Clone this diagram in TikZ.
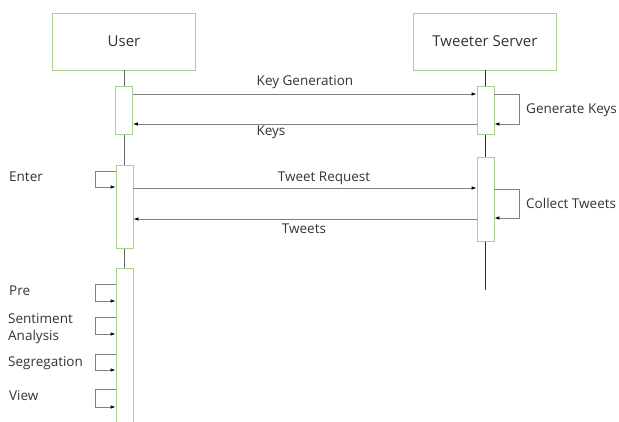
\documentclass[tikz,border=0pt]{standalone}
\usepackage{fontspec}
\setmainfont{Open Sans}
\usetikzlibrary{arrows.meta}
\definecolor{boxgreen}{RGB}{169,209,142}
\definecolor{linegray}{RGB}{128,128,128}
\tikzset{
  actor/.style={draw=boxgreen,line width=0.8pt,fill=white,minimum width=143pt,minimum height=57pt,inner sep=0pt,font=\fontsize{15}{17}\selectfont,text=black!80},
  actbox/.style={draw=boxgreen,line width=0.8pt,fill=white,minimum width=17pt,inner sep=0pt},
  msg/.style={linegray,line width=0.8pt,-{Latex[length=5pt,width=3.5pt,black]}},
  lbl/.style={font=\fontsize{13.5}{17}\selectfont,text=black!80,inner sep=0pt}
}
\begin{document}
\begin{tikzpicture}[x=1pt,y=-1pt]
\useasboundingbox (0,0) rectangle (619,421);
% actors
\node[actor] (user) at (124,41.5) {User};
\node[actor] (server) at (485,41.5) {Tweeter Server};

% lifelines
\draw[black!60,line width=0.8pt] (user.south) -- (124,268);
\draw[black!80,line width=0.6pt] (server.south) -- (485,290);

% activations, user side
\node[actbox,minimum height=48pt] (ua1) at (124,110) {};
\node[actbox,minimum height=83pt] (ua2) at (124.5,206.5) {};
\node[actbox,minimum height=156pt,anchor=north] (ua3) at (124.5,268) {};
% activations, server side
\node[actbox,minimum height=48pt] (sa1) at (485.5,110) {};
\node[actbox,minimum height=84pt] (sa2) at (485.5,199) {};

% key exchange
\draw[msg] (ua1.east |- 0,94) -- (sa1.west |- 0,94);
\draw[msg] (sa1.west |- 0,124) -- (ua1.east |- 0,124);
\node[lbl] (keygen) at (305,82) {Key Generation};
\node[lbl] (keys) at (271,132) {Keys};
\draw[msg] (sa1.east |- 0,94) -| (519,124) -- (sa1.east |- 0,124);
\node[lbl,right] (genkeys) at (526,110) {Generate Keys};

% tweets
\draw[msg] (ua2.east |- 0,188) -- (sa2.west |- 0,188);
\draw[msg] (sa2.west |- 0,219) -- (ua2.east |- 0,219);
\node[lbl] (treq) at (324,178) {Tweet Request};
\node[lbl] (tweets) at (304,229) {Tweets};
\draw[msg] (sa2.east |- 0,189) -| (519,218) -- (sa2.east |- 0,218);
\node[lbl,right] (collect) at (526,203) {Collect Tweets};

% self calls on the user
\draw[msg] (ua2.west |- 0,171) -| (95,187) -- (ua2.west |- 0,187);
\node[lbl,right] (enter) at (9,177) {Enter};
\foreach \ya/\yb in {284/301,317/334,354/370,389/407}
  \draw[msg] (ua3.west |- 0,\ya) -| (95.5,\yb) -- (ua3.west |- 0,\yb);
\node[lbl,right] (pre) at (9,291) {Pre};
\node[lbl,right,align=left] (senti) at (8,328.5) {Sentiment\\Analysis};
\node[lbl,right] (segr) at (8,363) {Segregation};
\node[lbl,right] (view) at (9,396) {View};
\end{tikzpicture}
\end{document}
